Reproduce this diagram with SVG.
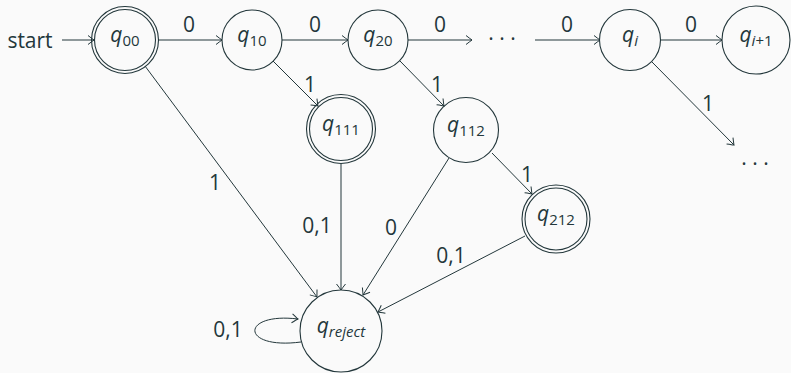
<svg xmlns="http://www.w3.org/2000/svg" width="791" height="373" viewBox="0 0 791 373">
<defs>
<style>
.bg{fill:#fafafa}
.st{fill:none;stroke:#23373b;stroke-width:1.1}
.e{fill:none;stroke:#23373b;stroke-width:1;marker-end:url(#ah)}
.t{font-family:"Open Sans","Noto Sans",sans-serif;font-size:21px;fill:#23373b;text-anchor:middle}
.q{font-style:italic}
.s{font-size:15px}
</style>
<marker id="ah" viewBox="-8 -6 10 12" markerWidth="10" markerHeight="12" refX="0" refY="0" orient="auto" markerUnits="userSpaceOnUse">
<path d="M-6,-4.5 Q-1.5,-1 0,0 Q-1.5,1 -6,4.5" fill="none" stroke="#23373b" stroke-width="1"/>
</marker>
</defs>
<rect class="bg" x="0" y="0" width="791" height="373"/>

<g id="connectors">
<path class="e" d="M62,40 L94,40"/>
<path class="e" d="M159,40 L222,40"/>
<path class="e" d="M282,40 L348,40"/>
<path class="e" d="M408,40 L472,40"/>
<path class="e" d="M535,40 L600,40"/>
<path class="e" d="M661,40 L722,40"/>
<path class="e" d="M652,62 L734,145"/>
<path class="e" d="M273,61 L318,106"/>
<path class="e" d="M400,61 L444,106"/>
<path class="e" d="M492,153 L532,194"/>
<path class="e" d="M145,66 L317,297"/>
<path class="e" d="M341,164 L341,290"/>
<path class="e" d="M449,158 L363,295"/>
<path class="e" d="M525,236 L378,312"/>
<path class="e" d="M301,342 C240,350 240,312 298,319"/>
</g>

<g id="labels">
<text class="t" x="30" y="48">start</text>
<text class="t" x="189" y="32">0</text>
<text class="t" x="315" y="32">0</text>
<text class="t" x="440" y="32">0</text>
<text class="t" x="502" y="46">· · ·</text>
<text class="t" x="567" y="32">0</text>
<text class="t" x="691" y="32">0</text>
<text class="t" x="708" y="111">1</text>
<text class="t" x="755" y="171">· · ·</text>
<text class="t" x="310" y="92">1</text>
<text class="t" x="437" y="92">1</text>
<text class="t" x="527" y="182">1</text>
<text class="t" x="215" y="190">1</text>
<text class="t" x="317" y="233">0,1</text>
<text class="t" x="391" y="235">0</text>
<text class="t" x="451" y="263">0,1</text>
<text class="t" x="228" y="337">0,1</text>
</g>

<g id="q00">
<circle class="st" cx="125" cy="40" r="33.5"/>
<circle class="st" cx="125" cy="40" r="30.5"/>
<text class="t" x="125" y="42"><tspan class="q">q</tspan><tspan class="s" dy="4">00</tspan></text>
</g>
<g id="q10">
<circle class="st" cx="252" cy="40" r="30"/>
<text class="t" x="252" y="42"><tspan class="q">q</tspan><tspan class="s" dy="4">10</tspan></text>
</g>
<g id="q20">
<circle class="st" cx="378" cy="40" r="30"/>
<text class="t" x="378" y="42"><tspan class="q">q</tspan><tspan class="s" dy="4">20</tspan></text>
</g>
<g id="qi">
<circle class="st" cx="630" cy="40" r="30.5"/>
<text class="t" x="630" y="42"><tspan class="q">q</tspan><tspan class="s q" dy="4">i</tspan></text>
</g>
<g id="qi1">
<circle class="st" cx="756" cy="40" r="34"/>
<text class="t" x="756" y="42"><tspan class="q">q</tspan><tspan class="s q" dy="4">i</tspan><tspan class="s">+1</tspan></text>
</g>
<g id="q111">
<circle class="st" cx="341" cy="129" r="34.5"/>
<circle class="st" cx="341" cy="129" r="31.5"/>
<text class="t" x="341" y="131"><tspan class="q">q</tspan><tspan class="s" dy="4">111</tspan></text>
</g>
<g id="q112">
<circle class="st" cx="466" cy="130" r="32.5"/>
<text class="t" x="466" y="132"><tspan class="q">q</tspan><tspan class="s" dy="4">112</tspan></text>
</g>
<g id="q212">
<circle class="st" cx="556" cy="219" r="34"/>
<circle class="st" cx="556" cy="219" r="31"/>
<text class="t" x="556" y="221"><tspan class="q">q</tspan><tspan class="s" dy="4">212</tspan></text>
</g>
<g id="qreject">
<circle class="st" cx="341" cy="331" r="41"/>
<text class="t" x="341" y="333"><tspan class="q">q</tspan><tspan class="s q" dy="4">reject</tspan></text>
</g>
</svg>
